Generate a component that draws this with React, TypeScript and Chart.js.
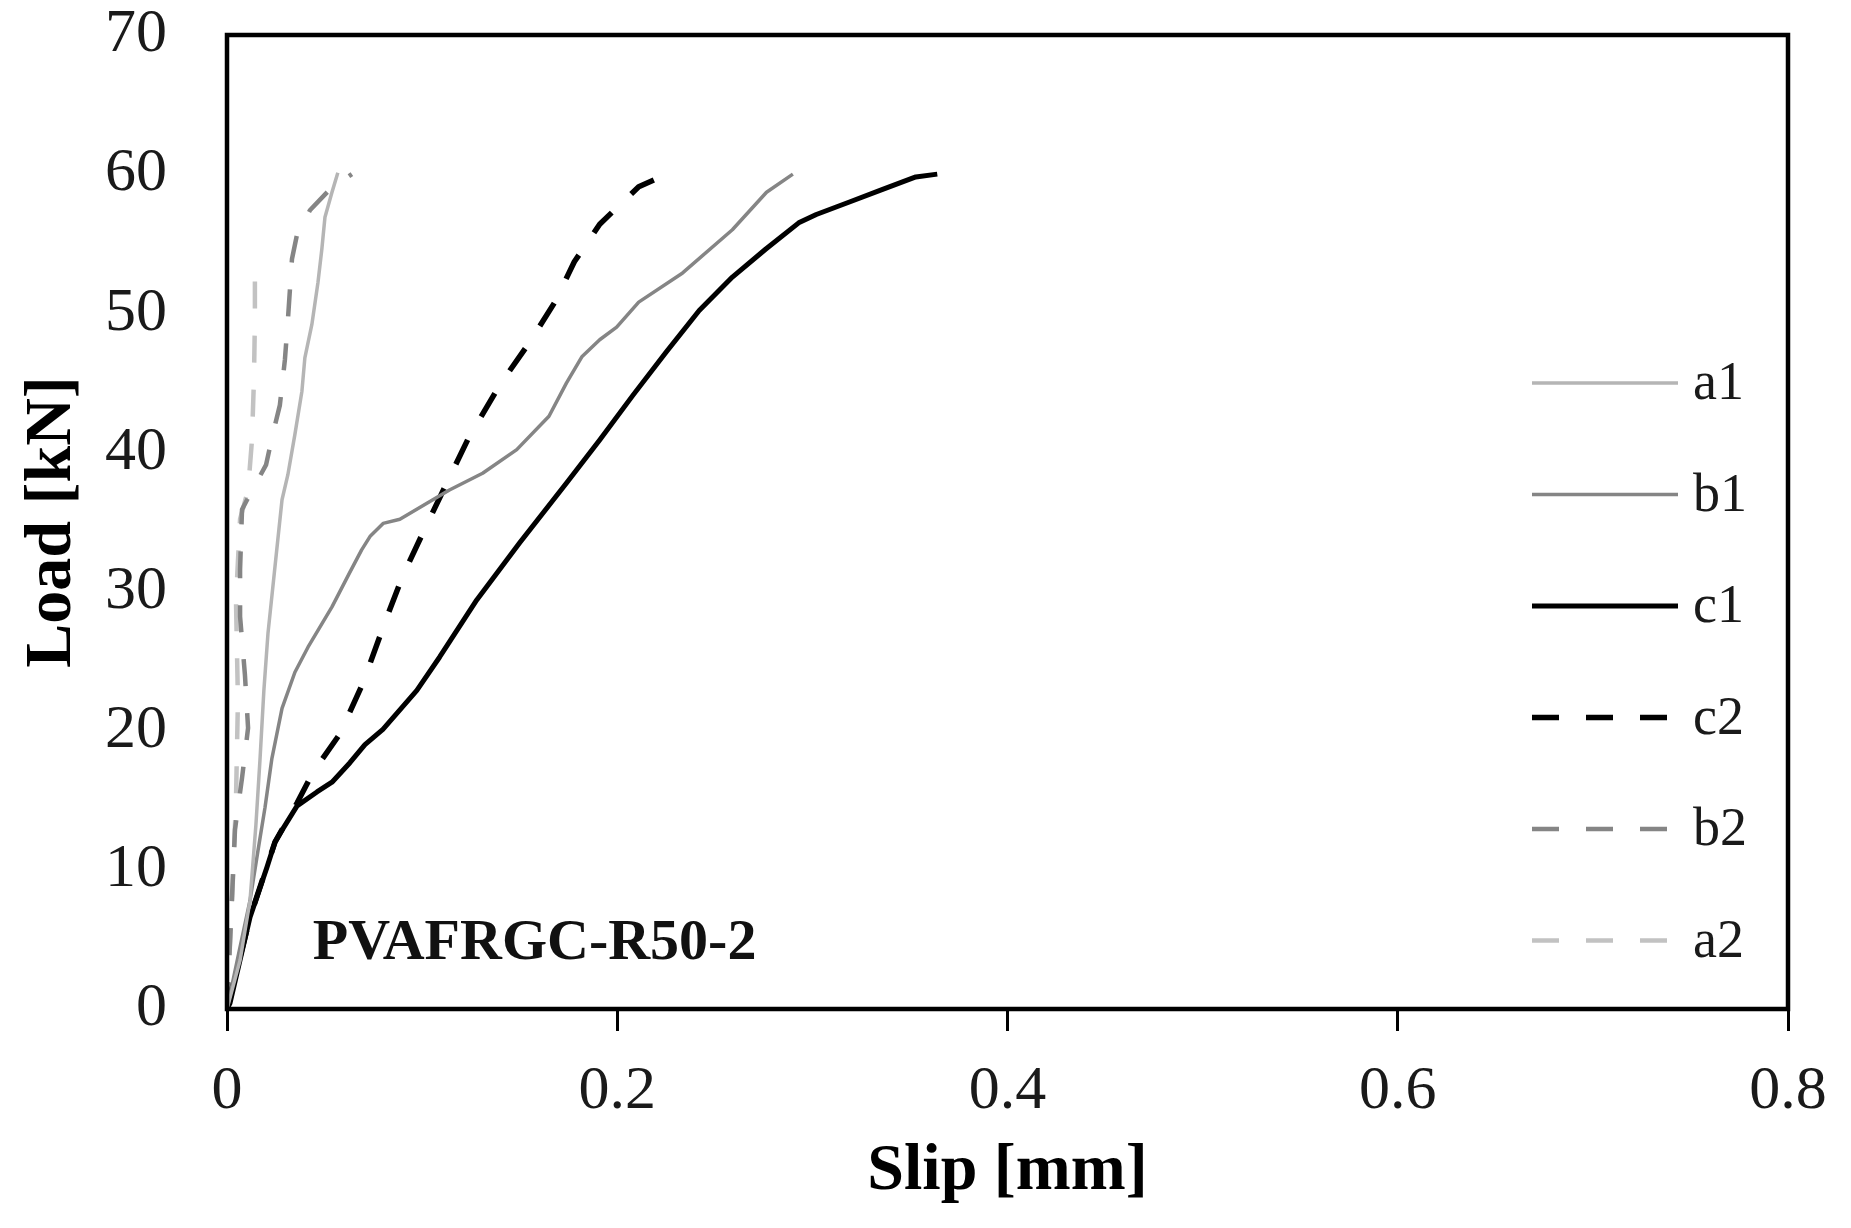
import React, { useEffect, useRef } from "react";
import { Chart, registerables } from "chart.js";

Chart.register(...registerables);

const W = 1851;
const H = 1228;
const SERIF = '"Liberation Serif", "Times New Roman", serif';

// ---- data (slip in mm, load in kN) ----
const seriesLabels = ["a1", "b1", "c1", "c2", "b2", "a2"];

const a1Slip = [0, 0.0067, 0.0118, 0.0148, 0.0169, 0.0189, 0.021, 0.0246, 0.0282, 0.0312, 0.0348, 0.0384, 0.0399, 0.0435, 0.0466, 0.0486, 0.0502, 0.0538, 0.0568];
const a1Load = [0, 3.5, 7.8, 13.2, 17.9, 22.9, 27.0, 31.8, 36.6, 38.4, 41.3, 44.4, 46.8, 49.2, 52.2, 54.6, 56.9, 58.7, 60.1];

const b1Slip = [0, 0.006, 0.0118, 0.0159, 0.0195, 0.023, 0.0282, 0.0348, 0.0415, 0.0538, 0.063, 0.069, 0.0735, 0.08, 0.0886, 0.1055, 0.114, 0.131, 0.1485, 0.165, 0.174, 0.182, 0.191, 0.1997, 0.211, 0.2335, 0.259, 0.2765, 0.29];
const b1Load = [0, 4.0, 7.8, 11.4, 14.5, 18.0, 21.6, 24.2, 26.0, 28.9, 31.4, 33.0, 34.0, 34.9, 35.2, 36.6, 37.3, 38.5, 40.2, 42.6, 45.0, 46.9, 48.1, 49.0, 50.8, 52.9, 56.0, 58.7, 60.0];

const c1Slip = [0, 0.0015, 0.0118, 0.0205, 0.0246, 0.0271, 0.0359, 0.0461, 0.0538, 0.063, 0.0707, 0.0799, 0.0973, 0.109, 0.128, 0.15, 0.174, 0.191, 0.208, 0.225, 0.242, 0.259, 0.276, 0.293, 0.302, 0.319, 0.336, 0.353, 0.364];
const c1Load = [0, 0.4, 6.6, 10.2, 12.0, 12.6, 14.6, 15.6, 16.3, 17.7, 19.0, 20.1, 22.9, 25.3, 29.4, 33.5, 37.8, 40.9, 44.1, 47.2, 50.2, 52.6, 54.6, 56.5, 57.1, 58.0, 58.9, 59.8, 60.0];

const c2Slip = [0, 0.0118, 0.0246, 0.0359, 0.044, 0.058, 0.0696, 0.082, 0.09, 0.102, 0.114, 0.124, 0.14, 0.155, 0.168, 0.178, 0.191, 0.211, 0.219];
const c2Load = [0, 6.6, 12.0, 14.8, 17.0, 19.8, 23.4, 28.2, 31.1, 34.7, 38.2, 41.1, 44.9, 47.9, 50.8, 53.7, 56.4, 59.1, 59.6];

const b2Slip = [0, 0.0041, 0.0077, 0.0108, 0.0092, 0.0067, 0.0067, 0.0077, 0.0118, 0.02, 0.0236, 0.0271, 0.0297, 0.0312, 0.0333, 0.0358, 0.0425, 0.0527, 0.064];
const b2Load = [0, 12.9, 16.6, 20.2, 24.0, 28.2, 31.6, 35.9, 37.0, 39.1, 41.4, 43.4, 46.7, 49.5, 53.9, 55.6, 57.4, 58.9, 60.0];

const a2Slip = [0, 0.0026, 0.0046, 0.0056, 0.0046, 0.0067, 0.0108, 0.0128, 0.0138, 0.0143, 0.0143];
const a2Load = [0, 7.8, 15.0, 22.2, 29.4, 35.2, 37.3, 40.9, 45.2, 49.5, 52.6];

const xAxisTitle = "Slip [mm]";
const yAxisTitle = "Load [kN]";
const specimenLabel = "PVAFRGC-R50-2";
const specimenAt = { x: 0.044, y: 4.7 };

const toPoints = (xs: number[], ys: number[]) => xs.map((x, i) => ({ x, y: ys[i] }));

const framePlugin = {
  id: "frame",
  afterDatasetsDraw(chart: any) {
    const { ctx, chartArea: a } = chart;
    ctx.save();
    ctx.strokeStyle = "#000";
    ctx.lineWidth = 4.5;
    ctx.strokeRect(a.left, a.top, a.right - a.left, a.bottom - a.top);
    ctx.restore();
  },
};

const legendPlugin = {
  id: "insideLegend",
  afterDraw(chart: any) {
    const { ctx, chartArea: a } = chart;
    const x0 = a.right - 256;
    const x1 = a.right - 110;
    const tx = a.right - 95;
    ctx.save();
    chart.data.datasets.forEach((ds: any, i: number) => {
      const y = a.top + 348 + i * 111.5;
      ctx.beginPath();
      ctx.strokeStyle = ds.borderColor;
      ctx.lineWidth = ds.borderWidth;
      ctx.setLineDash(ds.borderDash || []);
      ctx.moveTo(x0, y);
      ctx.lineTo(x1, y);
      ctx.stroke();
      ctx.setLineDash([]);
      ctx.fillStyle = "#1a1a1a";
      ctx.font = `54px ${SERIF}`;
      ctx.textAlign = "left";
      ctx.textBaseline = "middle";
      ctx.fillText(ds.label, tx, y + 2);
    });
    // specimen label
    const px = chart.scales.x.getPixelForValue(specimenAt.x);
    const py = chart.scales.y.getPixelForValue(specimenAt.y);
    ctx.fillStyle = "#111";
    ctx.font = `bold 58px ${SERIF}`;
    ctx.textAlign = "left";
    ctx.textBaseline = "middle";
    ctx.fillText(specimenLabel, px, py);
    ctx.restore();
  },
};

export default function App() {
  const ref = useRef<HTMLCanvasElement | null>(null);
  useEffect(() => {
    if (!ref.current) return;
    const mk = (label: string, xs: number[], ys: number[], color: string, width: number, dash?: number[]) => ({
      label,
      data: toPoints(xs, ys),
      borderColor: color,
      backgroundColor: color,
      borderWidth: width,
      borderDash: dash,
      pointRadius: 0,
      tension: 0,
      fill: false,
      borderJoinStyle: "round" as const,
    });
    const chart = new Chart(ref.current, {
      type: "line",
      data: {
        datasets: [
          mk(seriesLabels[0], a1Slip, a1Load, "#b5b5b5", 3.5),
          mk(seriesLabels[1], b1Slip, b1Load, "#858585", 3.5),
          mk(seriesLabels[2], c1Slip, c1Load, "#000000", 5),
          mk(seriesLabels[3], c2Slip, c2Load, "#000000", 5.5, [27, 27]),
          mk(seriesLabels[4], b2Slip, b2Load, "#858585", 4.5, [27, 27]),
          mk(seriesLabels[5], a2Slip, a2Load, "#c2c2c2", 4.5, [27, 27]),
        ],
      },
      options: {
        responsive: false,
        animation: false,
        events: [],
        layout: { padding: { left: 0, right: W - 1788, top: 35, bottom: 0 } },
        plugins: { legend: { display: false }, tooltip: { enabled: false } },
        scales: {
          x: {
            type: "linear",
            min: 0,
            max: 0.8,
            ticks: { stepSize: 0.2, color: "#1a1a1a", font: { family: SERIF, size: 62 }, padding: 24, maxRotation: 0 },
            grid: { display: true, drawOnChartArea: false, drawTicks: true, tickLength: 22, tickWidth: 3, tickColor: "#000" },
            border: { display: false },
            title: { display: true, text: xAxisTitle, color: "#000", font: { family: SERIF, size: 66, weight: "bold" }, padding: { top: 0, bottom: 16 } },
            afterFit: (s: any) => {
              s.height = H - 1009;
              s.paddingLeft = 0;
              s.paddingRight = 0;
              s.paddingTop = 0;
              s.paddingBottom = 0;
            },
          },
          y: {
            type: "linear",
            min: 0,
            max: 70,
            ticks: { stepSize: 10, color: "#1a1a1a", font: { family: SERIF, size: 62 }, padding: 60 },
            grid: { display: false, drawTicks: false },
            border: { display: false },
            title: { display: true, text: yAxisTitle, color: "#000", font: { family: SERIF, size: 66, weight: "bold" }, padding: { top: 13, bottom: 0 } },
            afterFit: (s: any) => {
              s.width = 227;
              s.paddingTop = 0;
              s.paddingBottom = 0;
              s.paddingLeft = 0;
              s.paddingRight = 0;
            },
          },
        },
      },
      plugins: [framePlugin, legendPlugin],
    } as any);
    return () => chart.destroy();
  }, []);
  return (
    <div style={{ position: "absolute", left: 0, top: 0, width: W, height: H, background: "#fff" }}>
      <canvas ref={ref} width={W} height={H} style={{ display: "block", width: W, height: H }} />
    </div>
  );
}
